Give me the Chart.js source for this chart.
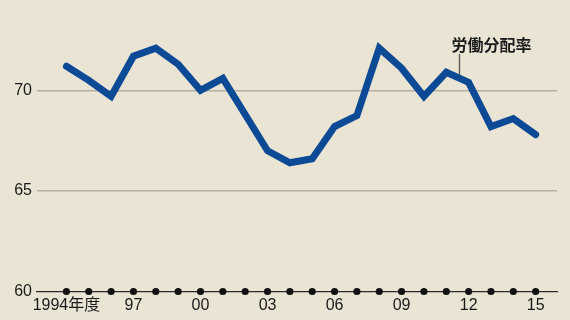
<!DOCTYPE html>
<html>
<head>
<meta charset="utf-8">
<script src="https://cdn.jsdelivr.net/npm/chart.js@4"></script>
<style>
  html, body { margin: 0; padding: 0; background: #e9e4d4; }
  #wrap { width: 570px; height: 320px; position: relative; }
</style>
</head>
<body>
<div id="wrap"><canvas id="c" width="570" height="320"></canvas></div>
<script>
const years = [1994,1995,1996,1997,1998,1999,2000,2001,2002,2003,2004,2005,2006,2007,2008,2009,2010,2011,2012,2013,2014,2015];
const laborShare = [71.2,70.5,69.7,71.7,72.1,71.3,70.0,70.6,68.8,67.0,66.4,66.6,68.2,68.75,72.1,71.1,69.7,70.9,70.4,68.2,68.6,67.8];
const xTickYears = [1994,1997,2000,2003,2006,2009,2012,2015];
const xTickLabels = ['1994年度','97','00','03','06','09','12','15'];
const yTickValues = [60,65,70];
const seriesLabel = '労働分配率';
const labelAnchorYear = 2011.57;

const annotationPlugin = {
  id: 'seriesLabel',
  afterDatasetsDraw(chart) {
    const ctx = chart.ctx;
    const xs = chart.scales.x;
    const x = Math.round(xs.getPixelForValue(labelAnchorYear)) + 0.5;
    ctx.save();
    ctx.strokeStyle = '#555';
    ctx.lineWidth = 1.3;
    ctx.beginPath();
    ctx.moveTo(x, 54);
    ctx.lineTo(x, 75);
    ctx.stroke();
    ctx.fillStyle = '#1a1a1a';
    ctx.font = 'bold 16px "Noto Sans CJK JP", sans-serif';
    ctx.textAlign = 'center';
    ctx.textBaseline = 'alphabetic';
    ctx.fillText(seriesLabel, x + 32, 51);
    ctx.restore();
  }
};

new Chart(document.getElementById('c'), {
  type: 'line',
  plugins: [annotationPlugin],
  data: {
    datasets: [
      {
        data: years.map((y, i) => ({ x: y, y: laborShare[i] })),
        borderColor: '#0d4a96',
        borderWidth: 7,
        pointRadius: 0,
        tension: 0,
        borderJoinStyle: 'miter',
        borderCapStyle: 'round',
        clip: false,
        order: 1
      },
      {
        data: years.map(y => ({ x: y, y: yTickValues[0] })),
        showLine: false,
        pointRadius: 3.6,
        pointBackgroundColor: '#111',
        pointBorderWidth: 0,
        clip: false,
        order: 0
      }
    ]
  },
  options: {
    responsive: false,
    animation: false,
    events: [],
    layout: { padding: { top: 20, right: 13, left: 0, bottom: 0 } },
    plugins: { legend: { display: false }, tooltip: { enabled: false } },
    scales: {
      x: {
        type: 'linear',
        min: 1992.683,
        max: 2015.955,
        afterBuildTicks: s => { s.ticks = xTickYears.map(v => ({ value: v })); },
        afterFit: s => { s.height = 28.5; },
        ticks: {
          autoSkip: false,
          maxRotation: 0,
          padding: 4,
          color: '#1a1a1a',
          font: { family: '"Liberation Sans", Arial, "Noto Sans CJK JP"', size: 16 },
          callback: (v) => xTickLabels[xTickYears.indexOf(v)]
        },
        grid: { display: false, drawTicks: false },
        border: { display: true, color: '#2a2a2a', width: 1.2 }
      },
      y: {
        min: 60,
        max: 73.5,
        afterBuildTicks: s => { s.ticks = yTickValues.map(v => ({ value: v })); },
        afterFit: s => { s.width = 37; },
        ticks: {
          padding: 5,
          color: '#1a1a1a',
          font: { family: '"Liberation Sans", Arial', size: 16 }
        },
        grid: {
          drawTicks: false,
          color: ctx => (ctx.tick && ctx.tick.value === 60) ? 'rgba(0,0,0,0)' : '#b5b09d',
          lineWidth: 1.5
        },
        border: { display: false }
      }
    }
  }
});
</script>
</body>
</html>
